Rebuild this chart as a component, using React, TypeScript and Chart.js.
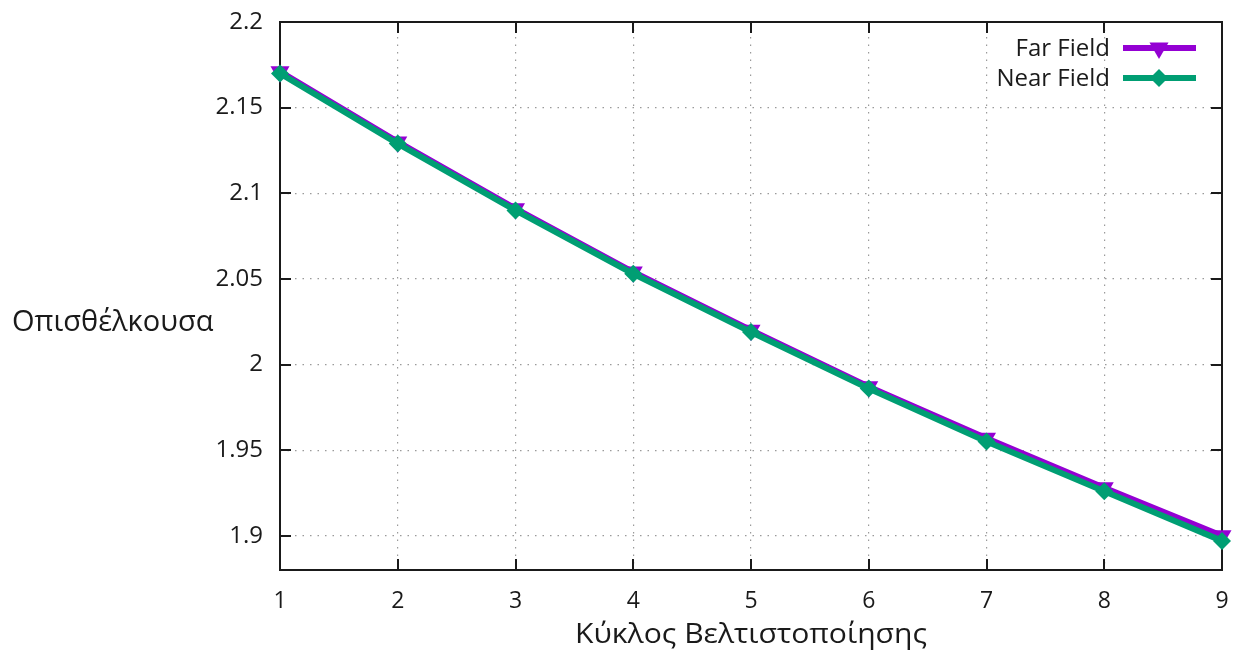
import React, { useEffect, useRef } from "react";
import { Chart, registerables } from "chart.js";

Chart.register(...registerables);

// Optimisation cycles (x) and drag values for each field model
const cycles = [1, 2, 3, 4, 5, 6, 7, 8, 9];
const farField = [2.171, 2.13, 2.091, 2.054, 2.02, 1.987, 1.957, 1.928, 1.9];
const nearField = [2.17, 2.129, 2.09, 2.053, 2.019, 1.986, 1.955, 1.926, 1.897];
const yTicks = [1.9, 1.95, 2, 2.05, 2.1, 2.15, 2.2];
const xTicks = [1, 2, 3, 4, 5, 6, 7, 8, 9];
const seriesNames = ["Far Field", "Near Field"];
const xTitle = "Κύκλος Βελτιστοποίησης";
const yTitle = "Οπισθέλκουσα";

const PURPLE = "#9400d3";
const GREEN = "#009e73";
const FONT = "'Open Sans', 'Noto Sans', sans-serif";

function drawTriangleDown(ctx: CanvasRenderingContext2D, x: number, y: number, r: number) {
  ctx.beginPath();
  for (let i = 0; i < 3; i++) {
    const a = Math.PI / 2 + (i * 2 * Math.PI) / 3;
    const px = x + Math.cos(a) * r;
    const py = y + Math.sin(a) * r;
    if (i === 0) ctx.moveTo(px, py);
    else ctx.lineTo(px, py);
  }
  ctx.closePath();
  ctx.fill();
}

function drawDiamond(ctx: CanvasRenderingContext2D, x: number, y: number, r: number) {
  ctx.beginPath();
  ctx.moveTo(x, y - r);
  ctx.lineTo(x + r, y);
  ctx.lineTo(x, y + r);
  ctx.lineTo(x - r, y);
  ctx.closePath();
  ctx.fill();
}

// Scales keep a fixed size and add no extra label overhang to the layout
function fixSize(prop: "width" | "height", size: number) {
  return (s: any) => {
    s[prop] = size;
    s.paddingTop = 0;
    s.paddingBottom = 0;
    s.paddingLeft = 0;
    s.paddingRight = 0;
  };
}

// Frame with inward (mirrored) tick marks, drawn under the data
const framePlugin = {
  id: "frame",
  beforeDatasetsDraw(chart: any) {
    const { ctx, chartArea: a, scales } = chart;
    const tl = 11;
    ctx.save();
    ctx.strokeStyle = "#1a1a1a";
    ctx.lineWidth = 2;
    ctx.beginPath();
    for (const v of xTicks) {
      const x = Math.round(scales.x.getPixelForValue(v));
      ctx.moveTo(x, a.bottom);
      ctx.lineTo(x, a.bottom - tl);
      ctx.moveTo(x, a.top);
      ctx.lineTo(x, a.top + tl);
    }
    for (const v of yTicks) {
      const y = Math.round(scales.y.getPixelForValue(v));
      ctx.moveTo(a.left, y);
      ctx.lineTo(a.left + tl, y);
      ctx.moveTo(a.right, y);
      ctx.lineTo(a.right - tl, y);
    }
    ctx.stroke();
    ctx.strokeRect(a.left, a.top, a.right - a.left, a.bottom - a.top);
    ctx.restore();
  },
  afterDraw(chart: any) {
    const { ctx, chartArea: a } = chart;
    ctx.save();
    ctx.fillStyle = "#1a1a1a";

    // y-axis title, horizontal, left of the tick labels
    ctx.font = `29px ${FONT}`;
    ctx.textAlign = "left";
    ctx.textBaseline = "middle";
    ctx.fillText(yTitle, 12, 323);

    // x-axis title, centred under the plot
    ctx.font = `28px ${FONT}`;
    const w = ctx.measureText(xTitle).width;
    const target = 352;
    const sx = target / w;
    const cx = (a.left + a.right) / 2;
    ctx.translate(cx, 635);
    ctx.scale(sx, 1);
    ctx.textAlign = "center";
    ctx.fillText(xTitle, 0, 0);
    ctx.setTransform(1, 0, 0, 1, 0, 0);

    // key, top-right inside the frame
    ctx.font = `24px ${FONT}`;
    ctx.textAlign = "right";
    const rows = [
      { name: seriesNames[0], color: PURPLE, y: 48, marker: "tri" },
      { name: seriesNames[1], color: GREEN, y: 78, marker: "dia" },
    ];
    for (const r of rows) {
      ctx.fillStyle = "#1a1a1a";
      ctx.fillText(r.name, 1110, r.y + 1);
      ctx.strokeStyle = r.color;
      ctx.lineWidth = 6;
      ctx.beginPath();
      ctx.moveTo(1123, r.y);
      ctx.lineTo(1196, r.y);
      ctx.stroke();
      ctx.fillStyle = r.color;
      if (r.marker === "tri") drawTriangleDown(ctx, 1159, r.y, 11);
      else drawDiamond(ctx, 1159, r.y, 9);
    }
    ctx.restore();
  },
};

export default function App() {
  const canvasRef = useRef<HTMLCanvasElement | null>(null);

  useEffect(() => {
    if (!canvasRef.current) return;
    const chart = new Chart(canvasRef.current, {
      type: "line",
      data: {
        datasets: [
          {
            label: seriesNames[0],
            data: cycles.map((c, i) => ({ x: c, y: farField[i] })),
            borderColor: PURPLE,
            backgroundColor: PURPLE,
            borderWidth: 6,
            pointStyle: "triangle",
            pointRotation: 180,
            pointRadius: 11,
            pointBorderWidth: 0,
            pointBackgroundColor: PURPLE,
            tension: 0,
            clip: false as any,
            order: 1,
          },
          {
            label: seriesNames[1],
            data: cycles.map((c, i) => ({ x: c, y: nearField[i] })),
            borderColor: GREEN,
            backgroundColor: GREEN,
            borderWidth: 6,
            pointStyle: "rectRot",
            pointRadius: 9,
            pointBorderWidth: 0,
            pointBackgroundColor: GREEN,
            tension: 0,
            clip: false as any,
            order: 0,
          },
        ],
      },
      options: {
        animation: false,
        responsive: true,
        maintainAspectRatio: false,
        layout: { padding: { top: 22, right: 13, left: 0, bottom: 0 } },
        plugins: {
          legend: { display: false },
          tooltip: { enabled: false },
        },
        scales: {
          x: {
            type: "linear",
            min: 1,
            max: 9,
            afterBuildTicks: (s: any) => {
              s.ticks = xTicks.map((v) => ({ value: v }));
            },
            afterFit: fixSize("height", 84),
            ticks: {
              color: "#1a1a1a",
              font: { family: FONT, size: 23 },
              padding: 18,
              maxRotation: 0,
              callback: (v: any) => String(v),
            },
            grid: { color: "#9a9a9a", lineWidth: 1.2, drawTicks: false },
            border: { display: false, dash: [1.5, 6] },
          },
          y: {
            type: "linear",
            min: 1.88,
            max: 2.2,
            afterBuildTicks: (s: any) => {
              s.ticks = yTicks.map((v) => ({ value: v }));
            },
            afterFit: fixSize("width", 280),
            ticks: {
              color: "#1a1a1a",
              font: { family: FONT, size: 24 },
              padding: 17,
              callback: (v: any) => String(parseFloat(Number(v).toFixed(3))),
            },
            grid: { color: "#9a9a9a", lineWidth: 1.2, drawTicks: false },
            border: { display: false, dash: [1.5, 6] },
          },
        },
      },
      plugins: [framePlugin],
    });
    return () => chart.destroy();
  }, []);

  return (
    <div style={{ position: "absolute", left: 0, top: 0, width: 1235, height: 654, background: "#fff" }}>
      <canvas ref={canvasRef} />
    </div>
  );
}
